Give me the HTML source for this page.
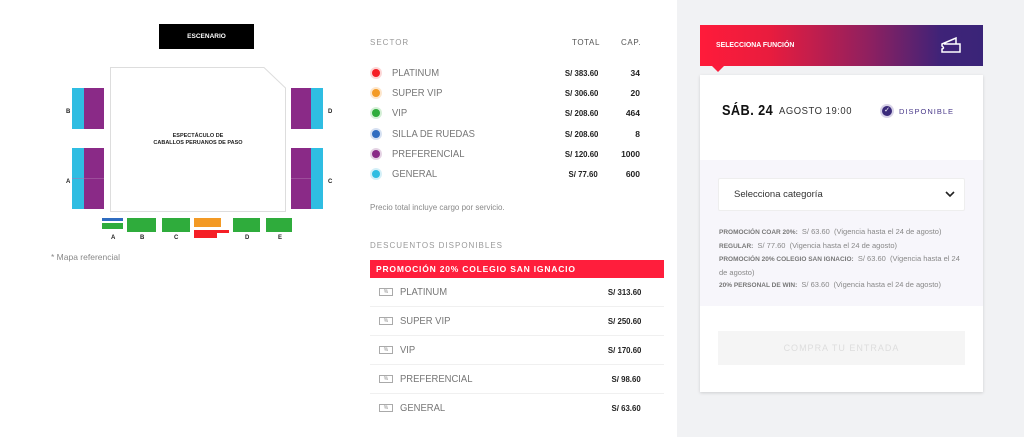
<!DOCTYPE html>
<html><head><meta charset="utf-8"><style>
*{margin:0;padding:0;box-sizing:border-box}
body{width:1024px;height:437px;position:relative;background:#fff;font-family:"Liberation Sans",sans-serif;overflow:hidden}
.a{position:absolute}
.lbl{position:absolute;font-size:6px;font-weight:bold;color:#222}
.t{position:absolute;white-space:nowrap}
.dot{position:absolute;width:12px;height:12px;border-radius:50%}
.dot i{position:absolute;left:2px;top:2px;width:8px;height:8px;border-radius:50%}
.name{position:absolute;left:392px;font-size:10.5px;color:#777;transform:scaleX(.9);transform-origin:left}
.pr{position:absolute;right:426px;font-size:8.5px;font-weight:bold;color:#222;transform:scaleX(.92);transform-origin:right}
.cap{position:absolute;right:384px;font-size:8.5px;font-weight:bold;color:#222}
.drow{position:absolute;left:370px;width:294px;height:29px;border-bottom:1px solid #f0f0f0}
.drow .ic{position:absolute;left:9px;top:10px;width:14px;height:8px;border:1px solid #aaa;font-size:5px;color:#888;text-align:center;line-height:6px}
.drow .n{position:absolute;left:30px;top:8px;font-size:10.5px;color:#777;transform:scaleX(.9);transform-origin:left}
.drow .p{position:absolute;right:23px;top:9px;font-size:8.5px;font-weight:bold;color:#222;transform:scaleX(.92);transform-origin:right}
.sm{font-size:7.5px;color:#888;line-height:12.5px}
.sm b{color:#777;font-size:6.5px}
</style></head><body>
<div class="a" style="left:159px;top:24px;width:95px;height:25px;background:#000;color:#fff;font-size:6.5px;font-weight:bold;text-align:center;line-height:25px">ESCENARIO</div>
<svg class="a" style="left:0;top:0" width="360" height="260">
<polygon points="110.5,67.5 264,67.5 285.5,88 285.5,211.5 110.5,211.5" fill="#fff" stroke="#ddd"/>
<rect x="72" y="88" width="12" height="41" fill="#2fbde2"/><rect x="84" y="88" width="20" height="41" fill="#8a2a87"/>
<rect x="72" y="148" width="12" height="61" fill="#2fbde2"/><rect x="84" y="148" width="20" height="61" fill="#8a2a87"/>
<line x1="72" y1="178.5" x2="104" y2="178.5" stroke="#b070b0" stroke-width=".6"/>
<rect x="291" y="88" width="20" height="41" fill="#8a2a87"/><rect x="311" y="88" width="12" height="41" fill="#2fbde2"/>
<rect x="291" y="148" width="20" height="61" fill="#8a2a87"/><rect x="311" y="148" width="12" height="61" fill="#2fbde2"/>
<line x1="291" y1="178.5" x2="311" y2="178.5" stroke="#b070b0" stroke-width=".6"/>
<rect x="102" y="218" width="21" height="3" fill="#2f6cc0"/><rect x="102" y="223" width="21" height="6" fill="#2fac3c"/>
<rect x="127" y="218" width="29" height="14" fill="#2fac3c"/>
<rect x="162" y="218" width="28" height="14" fill="#2fac3c"/>
<rect x="194" y="218" width="27" height="9" fill="#f39a25"/>
<rect x="194" y="230" width="23" height="8" fill="#f51f26"/><rect x="217" y="230" width="12" height="3" fill="#f51f26"/>
<rect x="233" y="218" width="27" height="14" fill="#2fac3c"/>
<rect x="266" y="218" width="26" height="14" fill="#2fac3c"/>
</svg>
<div class="lbl" style="left:66px;top:109px">B</div><div class="lbl" style="left:66px;top:179px">A</div>
<div class="lbl" style="left:328px;top:109px">D</div><div class="lbl" style="left:328px;top:179px">C</div>
<div class="lbl" style="left:111px;top:235px">A</div><div class="lbl" style="left:140px;top:235px">B</div><div class="lbl" style="left:174px;top:235px">C</div><div class="lbl" style="left:245px;top:235px">D</div><div class="lbl" style="left:278px;top:235px">E</div>
<div class="lbl" style="left:140px;top:133px;width:116px;text-align:center;font-size:5.5px;line-height:7px">ESPECTÁCULO DE<br>CABALLOS PERUANOS DE PASO</div>
<div class="t" style="left:51px;top:252px;font-size:8.5px;color:#888">* Mapa referencial</div>

<div class="t" style="left:370px;top:38px;font-size:8px;color:#999;letter-spacing:1px">SECTOR</div>
<div class="t" style="left:572px;top:38px;font-size:8px;color:#555;letter-spacing:.6px">TOTAL</div>
<div class="t" style="left:621px;top:38px;font-size:8px;color:#555;letter-spacing:.6px">CAP.</div>
<div class="dot" style="left:370px;top:67px;background:#fcd6d6"><i style="background:#f51f26"></i></div>
<div class="dot" style="left:370px;top:87px;background:#fde6cc"><i style="background:#f39a25"></i></div>
<div class="dot" style="left:370px;top:107px;background:#d4efd6"><i style="background:#2fac3c"></i></div>
<div class="dot" style="left:370px;top:128px;background:#d6e1f2"><i style="background:#2f6cc0"></i></div>
<div class="dot" style="left:370px;top:148px;background:#e5d3e4"><i style="background:#8a2a87"></i></div>
<div class="dot" style="left:370px;top:168px;background:#d4f0f8"><i style="background:#2fbde2"></i></div>
<div class="name" style="top:67px">PLATINUM</div><div class="name" style="top:87px">SUPER VIP</div><div class="name" style="top:107px">VIP</div><div class="name" style="top:128px">SILLA DE RUEDAS</div><div class="name" style="top:148px">PREFERENCIAL</div><div class="name" style="top:168px">GENERAL</div>
<div class="pr" style="top:68px">S/ 383.60</div><div class="pr" style="top:88px">S/ 306.60</div><div class="pr" style="top:108px">S/ 208.60</div><div class="pr" style="top:129px">S/ 208.60</div><div class="pr" style="top:149px">S/ 120.60</div><div class="pr" style="top:169px">S/ 77.60</div>
<div class="cap" style="top:68px">34</div><div class="cap" style="top:88px">20</div><div class="cap" style="top:108px">464</div><div class="cap" style="top:129px">8</div><div class="cap" style="top:149px">1000</div><div class="cap" style="top:169px">600</div>
<div class="t" style="left:370px;top:203px;font-size:8px;color:#888">Precio total incluye cargo por servicio.</div>
<div class="t" style="left:370px;top:241px;font-size:8px;color:#999;letter-spacing:1px">DESCUENTOS DISPONIBLES</div>
<div class="a" style="left:370px;top:260px;width:294px;height:18px;background:#ff1e3c;color:#fff;font-size:8.5px;font-weight:bold;letter-spacing:.8px;line-height:18px;padding-left:6px">PROMOCIÓN 20% COLEGIO SAN IGNACIO</div>
<div class="drow" style="top:278px"><div class="ic">%</div><div class="n">PLATINUM</div><div class="p">S/ 313.60</div></div>
<div class="drow" style="top:307px"><div class="ic">%</div><div class="n">SUPER VIP</div><div class="p">S/ 250.60</div></div>
<div class="drow" style="top:336px"><div class="ic">%</div><div class="n">VIP</div><div class="p">S/ 170.60</div></div>
<div class="drow" style="top:365px"><div class="ic">%</div><div class="n">PREFERENCIAL</div><div class="p">S/ 98.60</div></div>
<div class="drow" style="top:394px;border:none"><div class="ic">%</div><div class="n">GENERAL</div><div class="p">S/ 63.60</div></div>

<div class="a" style="left:677px;top:0;width:347px;height:437px;background:#f1f2f4"></div>
<div class="a" style="left:700px;top:25px;width:283px;height:41px;background:linear-gradient(90deg,#ff1b3a 0%,#e81c3e 25%,#8e2060 60%,#3f2378 85%,#3a2478 100%)"></div>
<div class="a" style="left:712px;top:66px;width:0;height:0;border-left:6px solid transparent;border-right:6px solid transparent;border-top:6px solid #fb1c3b"></div>
<div class="t" style="left:716px;top:40px;font-size:7.5px;color:#fff;font-weight:bold;transform:scaleX(.92);transform-origin:left">SELECCIONA FUNCIÓN</div>
<svg class="a" style="left:940px;top:36px" width="22" height="18"><path d="M2 8 L16 2 L16 8 L20 8 L20 16 L2 16 L2 13 Q5 12 2 10 Z M4 8 L20 8" fill="none" stroke="#fff" stroke-width="1.5"/></svg>
<div class="a" style="left:700px;top:75px;width:283px;height:317px;background:#fff;box-shadow:0 1px 3px rgba(0,0,0,.15)"></div>
<div class="a" style="left:700px;top:160px;width:283px;height:146px;background:#f7f6fb"></div>
<div class="t" style="left:722px;top:102px;font-size:15px;font-weight:bold;color:#111;letter-spacing:.5px;transform:scaleX(.85);transform-origin:left">SÁB. 24</div>
<div class="t" style="left:779px;top:105px;font-size:10.5px;color:#333;letter-spacing:.6px;transform:scaleX(.9);transform-origin:left">AGOSTO 19:00</div>
<div class="a" style="left:880px;top:104px;width:14px;height:14px;border-radius:50%;background:#d8d3e8"></div>
<div class="a" style="left:882px;top:106px;width:10px;height:10px;border-radius:50%;background:#3a2a7a;color:#fff;font-size:7px;text-align:center;line-height:10px">✓</div>
<div class="t" style="left:899px;top:107px;font-size:7.5px;color:#4a3a8a;letter-spacing:1px">DISPONIBLE</div>
<div class="a" style="left:718px;top:178px;width:247px;height:33px;background:#fff;border:1px solid #eee;border-radius:2px"></div>
<div class="t" style="left:734px;top:189px;font-size:9.5px;color:#333">Selecciona categoría</div>
<svg class="a" style="left:945px;top:190px" width="10" height="8"><path d="M1 2 L5 6 L9 2" fill="none" stroke="#222" stroke-width="1.6"/></svg>
<div class="a sm" style="left:719px;top:226px;width:250px">
<b>PROMOCIÓN COAR 20%:</b>&nbsp; S/ 63.60 &nbsp;(Vigencia hasta el 24 de agosto)<br>
<b>REGULAR:</b>&nbsp; S/ 77.60 &nbsp;(Vigencia hasta el 24 de agosto)<br>
<b>PROMOCIÓN 20% COLEGIO SAN IGNACIO:</b>&nbsp; S/ 63.60 &nbsp;(Vigencia hasta el 24 de agosto)<br>
<b>20% PERSONAL DE WIN:</b>&nbsp; S/ 63.60 &nbsp;(Vigencia hasta el 24 de agosto)</div>
<div class="a" style="left:718px;top:331px;width:247px;height:34px;background:#f5f5f5;color:#ddd;font-size:9px;letter-spacing:1px;text-align:center;line-height:34px">COMPRA TU ENTRADA</div>
</body></html>
